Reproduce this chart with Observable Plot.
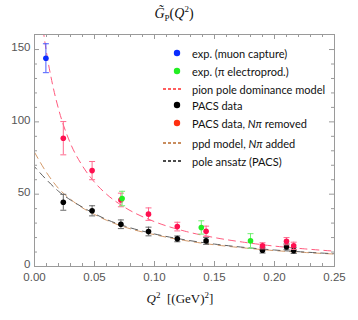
<!DOCTYPE html>
<html><head><meta charset="utf-8">
<script src="https://cdn.jsdelivr.net/npm/d3@7"></script>
<script src="https://cdn.jsdelivr.net/npm/@observablehq/plot@0.6"></script>
<style>
body{margin:0;background:#fff;}
#wrap{position:relative;width:358px;height:320px;overflow:hidden;}
.t{position:absolute;font-family:"Liberation Serif",serif;color:#111;white-space:nowrap;}
#legend{position:absolute;left:0;top:0;font-family:Lato,"Open Sans",sans-serif;font-size:11px;color:#111;}
.row{position:absolute;left:160px;height:14px;display:flex;align-items:center;white-space:nowrap;}
.row svg{width:24px;height:10px;margin-right:8px;}
</style></head>
<body><div id="wrap"></div>
<script>
// ---- data ----
const muonQ2 = [0.0095];
const muonGP = [144];
const muonErr = [10];

const electroQ2 = [0.073, 0.139, 0.18];
const electroGP = [47, 27, 17.7];
const electroErr = [5, 4.6, 5];

const pacsQ2 = [0.024, 0.048, 0.072, 0.095, 0.119, 0.143, 0.19, 0.21, 0.216];
const pacsGP = [44.4, 38.5, 29.2, 24.2, 19.1, 17.7, 11.3, 13.6, 11.0];
const pacsErr = [5.5, 3.5, 3, 3, 2, 2.4, 2, 2, 2];
const removedGP = [88.7, 66.3, 46, 36.2, 27.6, 24.4, 14.3, 17.5, 14.3];
const removedErr = [11.5, 6.3, 4.7, 4.3, 3, 3.5, 2.1, 2.5, 2.5];

const ppdQ2 = [0.006, 0.008, 0.01, 0.015, 0.02, 0.03, 0.04, 0.05, 0.06, 0.075, 0.1, 0.125, 0.15, 0.175, 0.2, 0.225, 0.25];
const ppdGP = [172, 159, 148, 126, 109, 85, 69.5, 58.3, 50, 41, 31, 24.5, 20, 16.7, 14.1, 12.2, 10.6];

const fitQ2 = [0, 0.01, 0.02, 0.03, 0.04, 0.05, 0.06, 0.075, 0.1, 0.125, 0.15, 0.175, 0.2, 0.225, 0.25];
const poleGP = [69, 60, 52, 46, 41, 36.5, 32.5, 28, 22.5, 18.5, 15.5, 13.2, 11.4, 10, 8.8];
const ppdNpiGP = [79, 65, 54, 46.5, 40.5, 36, 32, 27.3, 22, 18, 15, 12.8, 11, 9.7, 8.6];

const xMajor = [0, 0.05, 0.10, 0.15, 0.20, 0.25];
const xMinor = [0.01,0.02,0.03,0.04,0.06,0.07,0.08,0.09,0.11,0.12,0.13,0.14,0.16,0.17,0.18,0.19,0.21,0.22,0.23,0.24];
const yMajor = [0, 50, 100, 150];
const yMinor = [10,20,30,40,60,70,80,90,110,120,130,140];

// ---- build ----
const pts = (q, g, e) => q.map((x, i) => ({x, y: g[i], lo: g[i] - e[i], hi: g[i] + e[i]}));
const line = (q, g) => q.map((x, i) => ({x, y: g[i]}));
const muon = pts(muonQ2, muonGP, muonErr);
const electro = pts(electroQ2, electroGP, electroErr);
const pacs = pts(pacsQ2, pacsGP, pacsErr);
const removed = pts(pacsQ2, removedGP, removedErr);

const cap = {draw(ctx, size){ const r = Math.sqrt(size/Math.PI); ctx.moveTo(-r,0); ctx.lineTo(r,0);} };

const mT = 34, mB = 54, mL = 34, mR = 24, H = 320, W = 358;
const iH = H - mT - mB, iW = W - mL - mR;
const frameC = "#9a9a9a";

function errMarks(d, col, dot) {
  return [
    Plot.ruleX(d, {x: "x", y1: "lo", y2: "hi", stroke: col, strokeWidth: 1}),
    Plot.dot(d, {x: "x", y: "hi", symbol: cap, r: 3, stroke: col, strokeWidth: 1}),
    Plot.dot(d, {x: "x", y: "lo", symbol: cap, r: 3, stroke: col, strokeWidth: 1}),
    Plot.dot(d, {x: "x", y: "y", r: 2.8, fill: dot, stroke: "none"})
  ];
}

const chart = Plot.plot({
  width: W, height: H,
  marginTop: mT, marginBottom: mB, marginLeft: mL, marginRight: mR,
  style: {fontFamily: "'Liberation Sans', Arial, sans-serif", fontSize: "11px", background: "transparent"},
  x: {domain: [0, 0.25]},
  y: {domain: [0, 160.4]},
  marks: [
    Plot.line(line(ppdQ2, ppdGP), {x: "x", y: "y", stroke: "#ff5a7e", strokeWidth: 1, strokeDasharray: "7,5", curve: "monotone-x", clip: true}),
    Plot.line(line(fitQ2, ppdNpiGP), {x: "x", y: "y", stroke: "#d49a6a", strokeWidth: 1, strokeDasharray: "7,5", curve: "monotone-x", clip: true}),
    Plot.line(line(fitQ2, poleGP), {x: "x", y: "y", stroke: "#606060", strokeWidth: 1, strokeDasharray: "7,5", strokeDashoffset: 4, curve: "monotone-x", clip: true}),
    ...errMarks(pacs, "#666", "#000"),
    ...errMarks(removed, "#ff6a8e", "#ff1050"),
    ...errMarks(electro, "#70f070", "#22ee22"),
    ...errMarks(muon, "#4a5cff", "#0a2cff"),
    Plot.frame({stroke: frameC}),
    Plot.tickX(xMajor, {x: d => d, insetTop: iH - 5, stroke: frameC}),
    Plot.tickX(xMinor, {x: d => d, insetTop: iH - 3, stroke: frameC}),
    Plot.tickX(xMajor, {x: d => d, insetBottom: iH - 5, stroke: frameC}),
    Plot.tickX(xMinor, {x: d => d, insetBottom: iH - 3, stroke: frameC}),
    Plot.tickY(yMajor, {y: d => d, insetRight: iW - 5, stroke: frameC}),
    Plot.tickY(yMinor, {y: d => d, insetRight: iW - 3, stroke: frameC}),
    Plot.tickY(yMajor, {y: d => d, insetLeft: iW - 5, stroke: frameC}),
    Plot.tickY(yMinor, {y: d => d, insetLeft: iW - 3, stroke: frameC}),
    Plot.axisX({ticks: xMajor, tickSize: 0, tickPadding: 6, tickFormat: d3.format(".2f"), color: "#555", fontSize: 11.5, label: null}),
    Plot.axisY({ticks: yMajor, tickSize: 0, tickPadding: 4, dy: -2, color: "#555", fontSize: 11.5, label: null})
  ]
});

const wrap = document.getElementById("wrap");
wrap.appendChild(chart);

const title = document.createElement("div");
title.className = "t";
title.style.cssText = "left:0;width:348px;top:4px;text-align:center;font-size:14px;";
title.innerHTML = "<i>G&#771;</i><sub style='font-size:9px'>P</sub>(<i>Q</i><sup style='font-size:9px'>2</sup>)";
wrap.appendChild(title);

const xl = document.createElement("div");
xl.className = "t";
xl.style.cssText = "left:0;width:360px;top:290px;text-align:center;font-size:13px;";
xl.innerHTML = "<i>Q</i><sup style='font-size:9px'>2</sup>&nbsp;&nbsp;[(GeV)<sup style='font-size:9px'>2</sup>]";
wrap.appendChild(xl);

// legend
const legendItems = [
  {type: "dot", color: "#0a2cff", label: "exp. (muon capture)", top: 46},
  {type: "dot", color: "#22ee22", label: "exp. (&pi; electroprod.)", top: 64},
  {type: "dash", color: "#ff2a2a", label: "pion pole dominance model", top: 82},
  {type: "dot", color: "#000000", label: "PACS data", top: 98},
  {type: "dot", color: "#ff3010", label: "PACS data, <i>N&pi;</i> removed", top: 116},
  {type: "dash", color: "#b8682a", label: "ppd model, <i>N&pi;</i> added", top: 136},
  {type: "dash", color: "#111111", label: "pole ansatz (PACS)", top: 154}
];
const lg = document.createElement("div");
lg.id = "legend";
for (const it of legendItems) {
  const r = document.createElement("div");
  r.className = "row";
  r.style.top = it.top + "px";
  const sw = it.type === "dot"
    ? `<svg viewBox="0 0 24 10"><circle cx="17" cy="5" r="3.2" fill="${it.color}"/></svg>`
    : `<svg viewBox="0 0 24 10"><line x1="3" y1="5" x2="22" y2="5" stroke="${it.color}" stroke-width="1.3" stroke-dasharray="3,2"/></svg>`;
  r.innerHTML = sw + "<span>" + it.label + "</span>";
  lg.appendChild(r);
}
wrap.appendChild(lg);
</script></body></html>
